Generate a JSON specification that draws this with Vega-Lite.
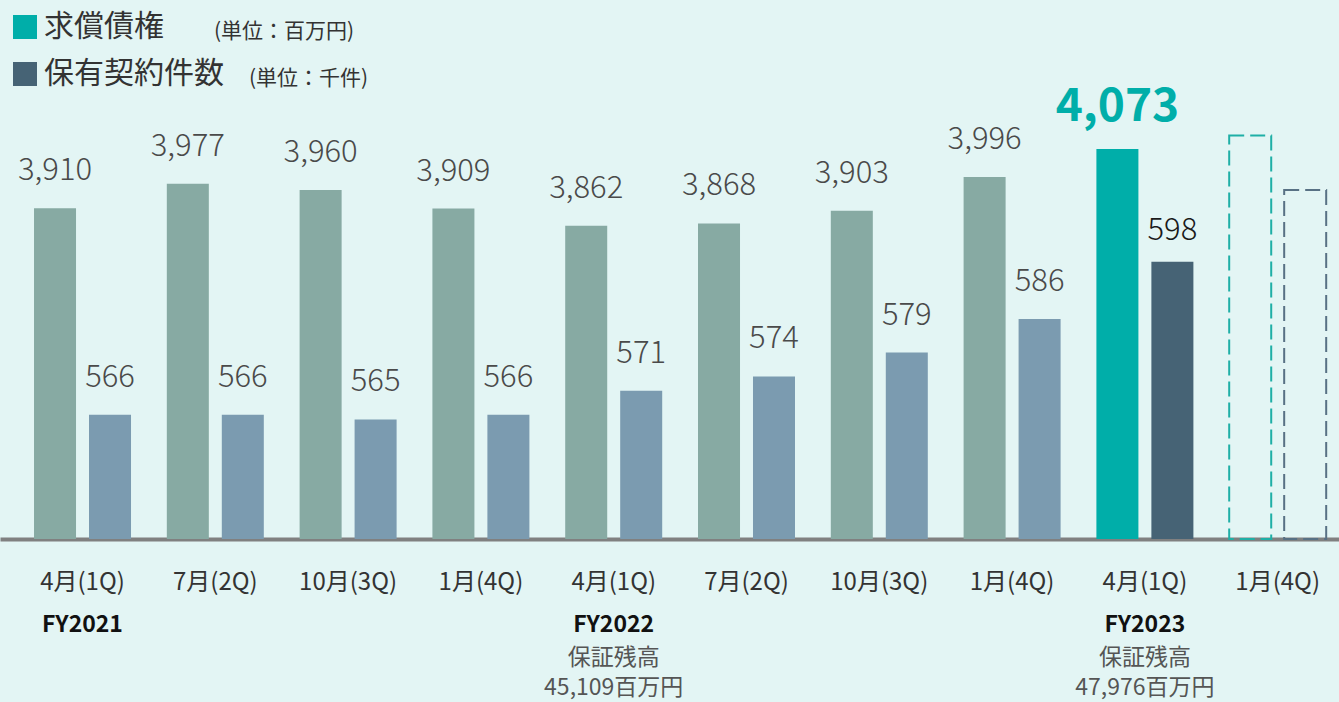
{
  "$schema": "https://vega.github.io/schema/vega-lite/v6.json",
  "width": 1339,
  "height": 439,
  "autosize": {"type": "none"},
  "padding": {"left": 0, "right": 0, "top": 100, "bottom": 163},
  "background": "#E3F5F4",
  "config": {"view": {"stroke": null}, "font": "Noto Sans CJK JP"},
  "data": {
    "values": [
      {"group": "01|4月(1Q)|FY2021|", "series": "求償債権", "state": "実績", "value": 3910},
      {"group": "01|4月(1Q)|FY2021|", "series": "保有契約件数", "state": "実績", "value": 566},
      {"group": "02|7月(2Q)||", "series": "求償債権", "state": "実績", "value": 3977},
      {"group": "02|7月(2Q)||", "series": "保有契約件数", "state": "実績", "value": 566},
      {"group": "03|10月(3Q)||", "series": "求償債権", "state": "実績", "value": 3960},
      {"group": "03|10月(3Q)||", "series": "保有契約件数", "state": "実績", "value": 565},
      {"group": "04|1月(4Q)||", "series": "求償債権", "state": "実績", "value": 3909},
      {"group": "04|1月(4Q)||", "series": "保有契約件数", "state": "実績", "value": 566},
      {"group": "05|4月(1Q)|FY2022|保証残高/45,109百万円", "series": "求償債権", "state": "実績", "value": 3862},
      {"group": "05|4月(1Q)|FY2022|保証残高/45,109百万円", "series": "保有契約件数", "state": "実績", "value": 571},
      {"group": "06|7月(2Q)||", "series": "求償債権", "state": "実績", "value": 3868},
      {"group": "06|7月(2Q)||", "series": "保有契約件数", "state": "実績", "value": 574},
      {"group": "07|10月(3Q)||", "series": "求償債権", "state": "実績", "value": 3903},
      {"group": "07|10月(3Q)||", "series": "保有契約件数", "state": "実績", "value": 579},
      {"group": "08|1月(4Q)||", "series": "求償債権", "state": "実績", "value": 3996},
      {"group": "08|1月(4Q)||", "series": "保有契約件数", "state": "実績", "value": 586},
      {"group": "09|4月(1Q)|FY2023|保証残高/47,976百万円", "series": "求償債権", "state": "最新", "value": 4073},
      {"group": "09|4月(1Q)|FY2023|保証残高/47,976百万円", "series": "保有契約件数", "state": "最新", "value": 598},
      {"group": "10|1月(4Q)||", "series": "求償債権", "state": "予定", "value": 4110},
      {"group": "10|1月(4Q)||", "series": "保有契約件数", "state": "予定", "value": 613}
    ]
  },
  "layer": [
    {
      "transform": [{"filter": "datum.series === '求償債権' && datum.state !== '予定'"}],
      "mark": {"type": "bar"},
      "encoding": {
        "x": {
          "field": "group", "type": "nominal",
          "scale": {"paddingInner": 0.2696, "paddingOuter": 0.1763, "align": 0.7265},
          "axis": {
            "orient": "bottom",
            "title": null, "labelExpr": "split(datum.value, '|')[1]", "labelAngle": 0,
            "labelFontSize": 24, "labelColor": "#333333", "labelFont": "Noto Sans CJK JP",
            "labelBaseline": "middle", "labelPadding": 43, "ticks": false, "tickSize": 0,
            "domain": true, "domainColor": "#808080", "domainWidth": 4,
            "grid": false, "labelOverlap": false, "labelBound": false
          }
        },
        "xOffset": {"field": "series", "type": "nominal", "scale": {"domain": ["求償債権", "保有契約件数"], "paddingInner": 0.236, "paddingOuter": 0}},
        "y": {"field": "value", "type": "quantitative", "stack": null, "scale": {"domain": [3000, 4207.7], "zero": false, "nice": false}, "axis": null},
        "fill": {
          "field": "series", "type": "nominal",
          "scale": {"domain": ["求償債権"], "range": ["#00AEA9"]},
          "condition": {"test": "datum.state === '実績'", "value": "#87AAA3"},
          "legend": {
            "orient": "none", "legendX": 10, "legendY": -88, "padding": 0,
            "title": "(単位：百万円)", "titleOrient": "right", "titlePadding": 50,
            "titleFontSize": 21, "titleFontWeight": "normal", "titleColor": "#333333",
            "titleFont": "Noto Sans CJK JP", "titleBaseline": "bottom", "titleAnchor": "end",
            "labelFontSize": 30, "labelColor": "#333333", "labelFont": "Noto Sans CJK JP", "labelOffset": 4, "labelLimit": 400,
            "symbolType": "square", "symbolSize": 576, "symbolStrokeWidth": 0
          }
        }
      }
    },
    {
      "transform": [{"filter": "datum.series === '保有契約件数' && datum.state !== '予定'"}],
      "mark": {"type": "bar"},
      "encoding": {
        "x": {
          "field": "group", "type": "nominal",
          "axis": {
            "orient": "bottom",
            "title": null, "labelExpr": "split(datum.value, '|')[2]", "labelAngle": 0,
            "labelFontSize": 23, "labelFontWeight": "bold", "labelColor": "#111111", "labelFont": "Noto Sans CJK JP",
            "labelBaseline": "middle", "labelPadding": 85, "ticks": false, "tickSize": 0,
            "domain": false, "grid": false, "labelOverlap": false, "labelBound": false
          }
        },
        "xOffset": {"field": "series", "type": "nominal", "scale": {"domain": ["求償債権", "保有契約件数"]}},
        "y": {"field": "value", "type": "quantitative", "stack": null, "scale": {"domain": [540, 631.84], "zero": false, "nice": false}, "axis": null},
        "fill": {
          "field": "series", "type": "nominal",
          "scale": {"domain": ["保有契約件数"], "range": ["#466375"]},
          "condition": {"test": "datum.state === '実績'", "value": "#7B9BB0"},
          "legend": {
            "orient": "none", "legendX": 10, "legendY": -41, "padding": 0,
            "title": "(単位：千件)", "titleOrient": "right", "titlePadding": 25,
            "titleFontSize": 21, "titleFontWeight": "normal", "titleColor": "#333333",
            "titleFont": "Noto Sans CJK JP", "titleBaseline": "bottom", "titleAnchor": "end",
            "labelFontSize": 30, "labelColor": "#333333", "labelFont": "Noto Sans CJK JP", "labelOffset": 4, "labelLimit": 400,
            "symbolType": "square", "symbolSize": 576, "symbolStrokeWidth": 0
          }
        }
      }
    },
    {
      "transform": [{"filter": "datum.series === '求償債権' && datum.state === '予定'"}],
      "mark": {"type": "bar", "fill": "transparent", "stroke": "#1FAFA6", "strokeWidth": 2, "strokeDash": [15, 6]},
      "encoding": {
        "x": {"field": "group", "type": "nominal", "axis": null},
        "xOffset": {"field": "series", "type": "nominal", "scale": {"domain": ["求償債権", "保有契約件数"]}},
        "y": {"field": "value", "type": "quantitative", "stack": null, "scale": {"domain": [3000, 4207.7], "zero": false, "nice": false}, "axis": null}
      }
    },
    {
      "transform": [{"filter": "datum.series === '保有契約件数' && datum.state === '予定'"}],
      "mark": {"type": "bar", "fill": "transparent", "stroke": "#587184", "strokeWidth": 2, "strokeDash": [15, 6]},
      "encoding": {
        "x": {"field": "group", "type": "nominal", "axis": null},
        "xOffset": {"field": "series", "type": "nominal", "scale": {"domain": ["求償債権", "保有契約件数"]}},
        "y": {"field": "value", "type": "quantitative", "stack": null, "scale": {"domain": [540, 631.84], "zero": false, "nice": false}, "axis": null}
      }
    },
    {
      "transform": [{"filter": "datum.series === '求償債権' && datum.state === '実績'"}],
      "mark": {"type": "text", "baseline": "alphabetic", "dy": -28, "fontSize": 31, "fontWeight": 300, "color": "#4A4A4A", "font": "Noto Sans CJK JP"},
      "encoding": {
        "x": {
          "field": "group", "type": "nominal",
          "axis": {
            "orient": "bottom",
            "title": null, "labelExpr": "split(split(datum.value, '|')[3], '/')", "labelAngle": 0,
            "labelFontSize": 23, "labelColor": "#555555", "labelFont": "Noto Sans CJK JP", "labelLineHeight": 30,
            "labelBaseline": "middle", "labelPadding": 118, "ticks": false, "tickSize": 0,
            "domain": false, "grid": false, "labelOverlap": false, "labelBound": false
          }
        },
        "xOffset": {"field": "series", "type": "nominal", "scale": {"domain": ["求償債権", "保有契約件数"]}},
        "y": {"field": "value", "type": "quantitative", "stack": null, "scale": {"domain": [3000, 4207.7], "zero": false, "nice": false}, "axis": null},
        "text": {"field": "value", "type": "quantitative", "format": ","}
      }
    },
    {
      "transform": [{"filter": "datum.series === '求償債権' && datum.state === '最新'"}],
      "mark": {"type": "text", "baseline": "alphabetic", "dy": -28, "fontSize": 46, "fontWeight": "bold", "color": "#00AEA9", "font": "Noto Sans CJK JP"},
      "encoding": {
        "x": {"field": "group", "type": "nominal", "axis": null},
        "xOffset": {"field": "series", "type": "nominal", "scale": {"domain": ["求償債権", "保有契約件数"]}},
        "y": {"field": "value", "type": "quantitative", "stack": null, "scale": {"domain": [3000, 4207.7], "zero": false, "nice": false}, "axis": null},
        "text": {"field": "value", "type": "quantitative", "format": ","}
      }
    },
    {
      "transform": [{"filter": "datum.series === '保有契約件数' && datum.state === '実績'"}],
      "mark": {"type": "text", "baseline": "alphabetic", "dy": -28, "fontSize": 31, "fontWeight": 300, "color": "#4A4A4A", "font": "Noto Sans CJK JP"},
      "encoding": {
        "x": {"field": "group", "type": "nominal", "axis": null},
        "xOffset": {"field": "series", "type": "nominal", "scale": {"domain": ["求償債権", "保有契約件数"]}},
        "y": {"field": "value", "type": "quantitative", "stack": null, "scale": {"domain": [540, 631.84], "zero": false, "nice": false}, "axis": null},
        "text": {"field": "value", "type": "quantitative", "format": ","}
      }
    },
    {
      "transform": [{"filter": "datum.series === '保有契約件数' && datum.state === '最新'"}],
      "mark": {"type": "text", "baseline": "alphabetic", "dy": -22, "fontSize": 31, "fontWeight": 300, "color": "#1A1A1A", "font": "Noto Sans CJK JP"},
      "encoding": {
        "x": {"field": "group", "type": "nominal", "axis": null},
        "xOffset": {"field": "series", "type": "nominal", "scale": {"domain": ["求償債権", "保有契約件数"]}},
        "y": {"field": "value", "type": "quantitative", "stack": null, "scale": {"domain": [540, 631.84], "zero": false, "nice": false}, "axis": null},
        "text": {"field": "value", "type": "quantitative", "format": ","}
      }
    }
  ],
  "resolve": {
    "scale": {"y": "independent", "fill": "independent"},
    "axis": {"x": "independent"},
    "legend": {"fill": "independent"}
  }
}
